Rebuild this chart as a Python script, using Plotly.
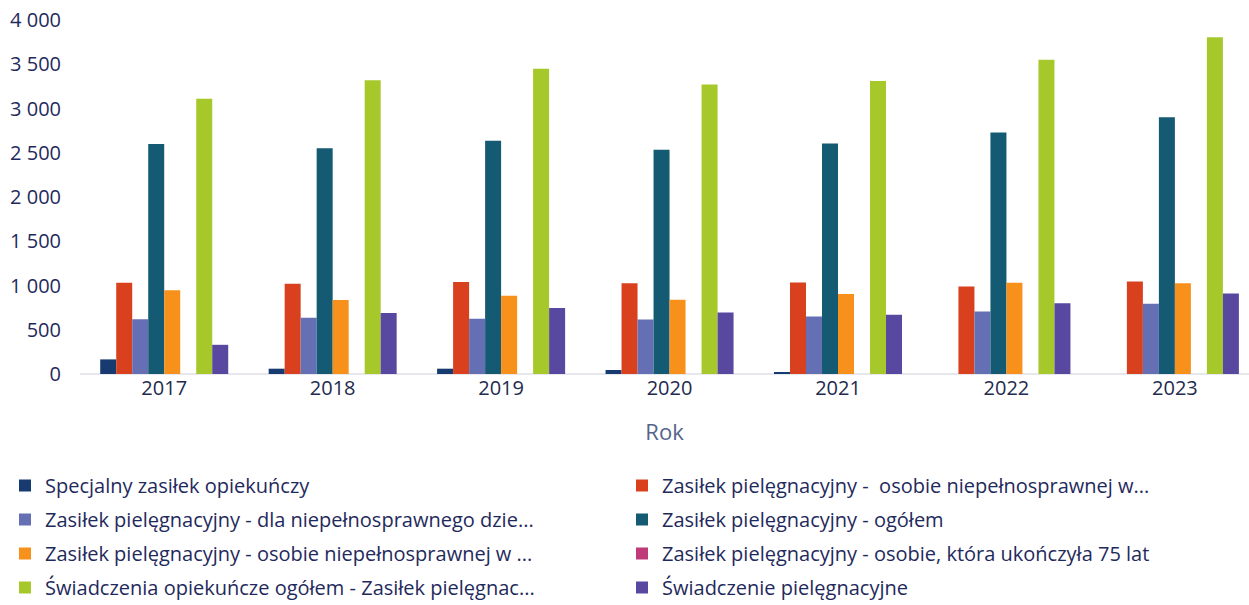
import plotly.graph_objects as go

years = ["2017", "2018", "2019", "2020", "2021", "2022", "2023"]

specjalny = [165, 60, 60, 45, 20, 0, 0]
osobie_niepelnosprawnej_a = [1030, 1020, 1040, 1025, 1035, 990, 1045]
dla_dziecka = [620, 635, 625, 615, 650, 705, 795]
pielegnacyjny_ogolem = [2600, 2550, 2635, 2535, 2605, 2730, 2900]
osobie_niepelnosprawnej_b = [945, 835, 885, 840, 905, 1030, 1025]
osobie_75 = [0, 0, 0, 0, 0, 0, 0]
swiadczenia_ogolem = [3110, 3320, 3450, 3270, 3310, 3550, 3805]
swiadczenie_pielegnacyjne = [330, 690, 745, 695, 670, 800, 910]

series = [
    ("Specjalny zasiłek opiekuńczy", specjalny, "#173a70", "legend"),
    ("Zasiłek pielęgnacyjny -  osobie niepełnosprawnej w...", osobie_niepelnosprawnej_a, "#d8401e", "legend2"),
    ("Zasiłek pielęgnacyjny - dla niepełnosprawnego dzie...", dla_dziecka, "#6570b4", "legend"),
    ("Zasiłek pielęgnacyjny - ogółem", pielegnacyjny_ogolem, "#135a72", "legend2"),
    ("Zasiłek pielęgnacyjny - osobie niepełnosprawnej w ...", osobie_niepelnosprawnej_b, "#f8901c", "legend"),
    ("Zasiłek pielęgnacyjny - osobie, która ukończyła 75 lat", osobie_75, "#bf3a78", "legend2"),
    ("Świadczenia opiekuńcze ogółem - Zasiłek pielęgnac...", swiadczenia_ogolem, "#a6c82a", "legend"),
    ("Świadczenie pielęgnacyjne", swiadczenie_pielegnacyjne, "#5848a0", "legend2"),
]

text_color = "#1f2a5c"
font_family = "Open Sans"

W, H = 1249, 605
M_L, M_R, M_T, M_B = 80, 0, 20, 231
plot_w = W - M_L - M_R

fig = go.Figure()
for i, (name, values, color, leg) in enumerate(series):
    fig.add_trace(go.Bar(
        x=years, y=values, name=name,
        marker=dict(color=color, line=dict(width=0)),
        legend=leg, legendgroup=f"g{i}",
    ))

legend_style = dict(
    orientation="v",
    xref="paper", yref="container",
    yanchor="top", xanchor="left",
    font=dict(family=font_family, size=20, color=text_color),
    tracegroupgap=5,
    bgcolor="rgba(0,0,0,0)",
)

fig.update_layout(
    width=W, height=H,
    margin=dict(l=M_L, r=M_R, t=M_T, b=M_B),
    paper_bgcolor="white", plot_bgcolor="white",
    barmode="group", bargap=0.24, bargroupgap=0,
    separators=", ",
    font=dict(family=font_family, color=text_color),
    legend=dict(x=(5 - M_L) / plot_w, y=1 - 466 / H, **legend_style),
    legend2=dict(x=(622 - M_L) / plot_w, y=1 - 466 / H, **legend_style),
    xaxis=dict(
        type="category", range=[-0.5, 6.44],
        showgrid=False, showline=False, zeroline=False,
        ticks="", tickangle=0,
        tickfont=dict(family=font_family, size=20, color="#222a4e"),
        title=dict(text="Rok", font=dict(family=font_family, size=22, color="#56648a"), standoff=24),
    ),
    yaxis=dict(
        range=[0, 4000], dtick=500, tickformat=",d",
        showgrid=False, zeroline=True, zerolinecolor="#e6e8ee", zerolinewidth=2,
        showline=False, ticks="", ticklabelstandoff=18,
        tickfont=dict(family=font_family, size=20, color=text_color),
    ),
)

fig.write_html("out.html")
